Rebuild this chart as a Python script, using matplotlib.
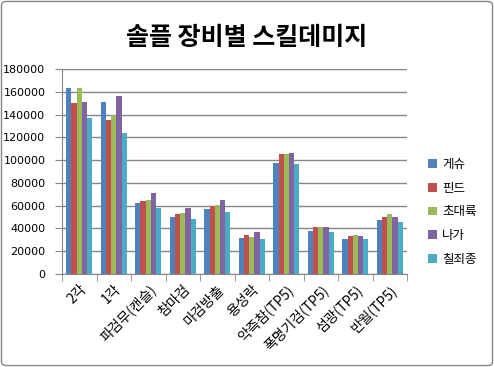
import matplotlib
matplotlib.use("Agg")
import matplotlib.pyplot as plt
import matplotlib.transforms as mtransforms
import numpy as np
from matplotlib.patches import FancyBboxPatch

plt.rcParams['font.family'] = ['Noto Sans CJK KR', 'DejaVu Sans']

categories = ["2각", "1각", "파검무(캔슬)", "참마검", "마검방출", "용성락",
              "악즉참(TP5)", "폭명기검(TP5)", "섬광(TP5)", "반월(TP5)"]
series_names = ["게슈", "핀드", "초대륙", "나가", "칠죄종"]
geshu   = [163000, 151000, 62500, 50100, 57200, 31700, 97700, 37800, 30800, 47500]
fiend   = [150000, 135500, 64200, 52800, 59800, 34300, 105600, 41300, 33400, 50100]
chodae  = [163000, 140000, 65100, 53700, 60700, 32600, 105600, 41300, 34300, 52800]
naga    = [151000, 156000, 71300, 58100, 65100, 37000, 106500, 41300, 33400, 50100]
chiljoe = [137000, 124000, 58100, 48400, 54500, 30800, 96800, 37000, 30800, 45700]
series = [geshu, fiend, chodae, naga, chiljoe]
colors = ["#4F81BD", "#C0504D", "#9BBB59", "#8064A2", "#4BACC6"]
yticks = [0, 20000, 40000, 60000, 80000, 100000, 120000, 140000, 160000, 180000]
title = "솔플 장비별 스킬데미지"

fig = plt.figure(figsize=(4.94, 3.67), dpi=100)
ax = fig.add_axes([0.1255, 0.2534, 0.6985, 0.5586])

n = len(series)
x = np.arange(len(categories))
group_w = 0.75
bw = group_w / n
for i, (vals, c, name) in enumerate(zip(series, colors, series_names)):
    ax.bar(x - group_w / 2 + bw * (i + 0.5), vals, width=bw, color=c, label=name,
           zorder=3, linewidth=0)

ax.set_xlim(-0.5, len(categories) - 0.5)
ax.set_ylim(0, 180000)
ax.set_yticks(yticks)
ax.set_yticklabels([str(v) for v in yticks], fontsize=8, family=['DejaVu Sans'])
ax.yaxis.grid(True, color="#868686", linewidth=1.0, zorder=0)
ax.set_axisbelow(True)

ax.set_xticks(x)
ax.set_xticklabels(categories, rotation=45, ha='right', rotation_mode='anchor', fontsize=10)
offset = mtransforms.ScaledTranslation(4 / 100, -6 / 100, fig.dpi_scale_trans)
for lbl in ax.get_xticklabels():
    lbl.set_transform(lbl.get_transform() + offset)
ax.set_xticks(np.arange(-0.5, len(categories)), minor=True)
ax.tick_params(axis='x', which='major', length=0, pad=6)
ax.tick_params(axis='x', which='minor', length=5, color="#868686", direction='out')
ax.tick_params(axis='y', length=5, color="#868686", direction='out', pad=7)

for s in ['top', 'right']:
    ax.spines[s].set_visible(False)
ax.spines['left'].set_color("#868686")
ax.spines['bottom'].set_color("#868686")

leg = fig.legend(loc='upper left', bbox_to_anchor=(0.857, 0.583), frameon=False,
                 fontsize=9, handlelength=0.7, handleheight=0.7, handletextpad=0.4,
                 labelspacing=0.85, borderaxespad=0)

fig.text(0.5, 0.897, title, ha='center', va='center', fontsize=18, fontweight='bold')

border = FancyBboxPatch((0.003, 0.004), 0.994, 0.992, boxstyle="round,pad=0,rounding_size=0.01",
                        transform=fig.transFigure, fill=False, edgecolor="#868686", linewidth=1.0)
fig.patches.append(border)

fig.savefig("out.png", dpi=100)
